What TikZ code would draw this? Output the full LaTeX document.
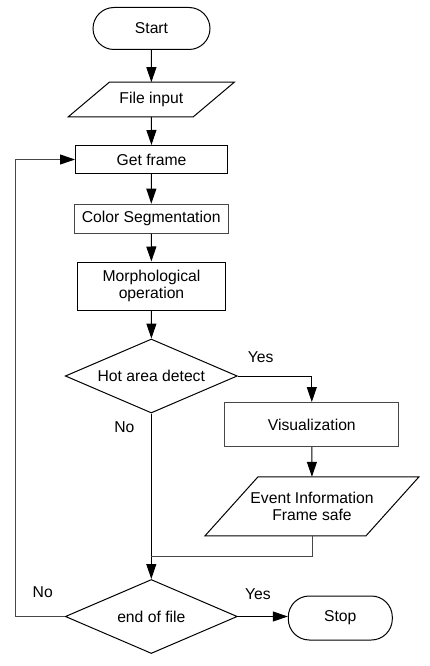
\documentclass[tikz,border=0pt]{standalone}
\usepackage{fontspec}
\setmainfont{Liberation Sans}
\usetikzlibrary{shapes.geometric,arrows.meta,calc}
\definecolor{edgegray}{HTML}{474747}
\tikzset{
  base/.style={inner sep=0pt, align=center, font=\fontsize{15.7}{17.6}\selectfont},
  term/.style={base, draw, rectangle, rounded corners=21pt},
  proc/.style={base, draw, rectangle},
  io/.style={base, rectangle},
  dec/.style={base, draw, diamond, aspect=2.3},
  lbl/.style={base},
  arr/.style={-{Triangle[length=15pt,width=10pt,color=black]}},
}
\begin{document}
\begin{tikzpicture}[x=1pt,y=-1pt,line width=1pt]
\useasboundingbox (0,0) rectangle (430,666);
\fill[white] (0,0) rectangle (430,666);

\node[term, minimum width=117pt, minimum height=42pt] (start) at (151.5,28.5) {Start};
\node[io, minimum width=124pt, minimum height=33.6pt] (fi) at (151.3,99.5) {File input};
\draw ($(fi.north west)+(20.5,0)$) -- ($(fi.north east)+(20.5,0)$) -- ($(fi.south east)+(-20.5,0)$) -- ($(fi.south west)+(-20.5,0)$) -- cycle;
\node[proc, minimum width=152pt, minimum height=28pt] (gf) at (151.5,159.5) {Get frame};
\node[proc, draw=edgegray, minimum width=154pt, minimum height=29pt] (cs) at (151.2,218.7) {Color Segmentation};
\node[proc, minimum width=148pt, minimum height=48pt] (mo) at (151.5,286) {Morphological\\operation};
\node[dec, minimum width=172pt, minimum height=74pt] (hot) at (151.3,376) {Hot area detect};
\node[proc, draw=edgegray, minimum width=174pt, minimum height=44pt] (vis) at (311.8,424.5) {Visualization};
\node[io, minimum width=160pt, minimum height=58pt] (ev) at (312,506.3) {Event Information\\Frame safe};
\draw ($(ev.north west)+(26.5,0)$) -- ($(ev.north east)+(26.5,0)$) -- ($(ev.south east)+(-26.5,0)$) -- ($(ev.south west)+(-26.5,0)$) -- cycle;
\node[dec, minimum width=172pt, minimum height=74pt] (eof) at (151.3,616.5) {end of file};
\node[term, minimum width=104pt, minimum height=44pt] (stop) at (340.3,618) {Stop};

\node[lbl] (yes1) at (260.7,356.7) {Yes};
\node[lbl] (no1) at (124.3,427.3) {No};
\node[lbl] (yes2) at (258,594.3) {Yes};
\node[lbl] (no2) at (42.7,591.7) {No};

\coordinate (merge) at (151.3,556.7);
\coordinate (lp) at (15,0);

\draw[arr] (start) -- (fi);
\draw[arr] (fi) -- (gf);
\draw[arr] (gf) -- (cs);
\draw[arr] (cs) -- (mo);
\draw[arr] (mo) -- (hot);
\draw[arr] (hot.east) -| (vis.north);
\draw[arr] (vis) -- (ev);
\draw[arr] (hot.south) -- (eof.north);
\draw[edgegray] (ev.south) |- (merge);
\draw[arr] (eof.east) -- (eof.east -| stop.west);
\draw[arr, edgegray] (eof.west) -- (eof.west -| lp) -- (lp |- gf.west) -- (gf.west);
\end{tikzpicture}
\end{document}
